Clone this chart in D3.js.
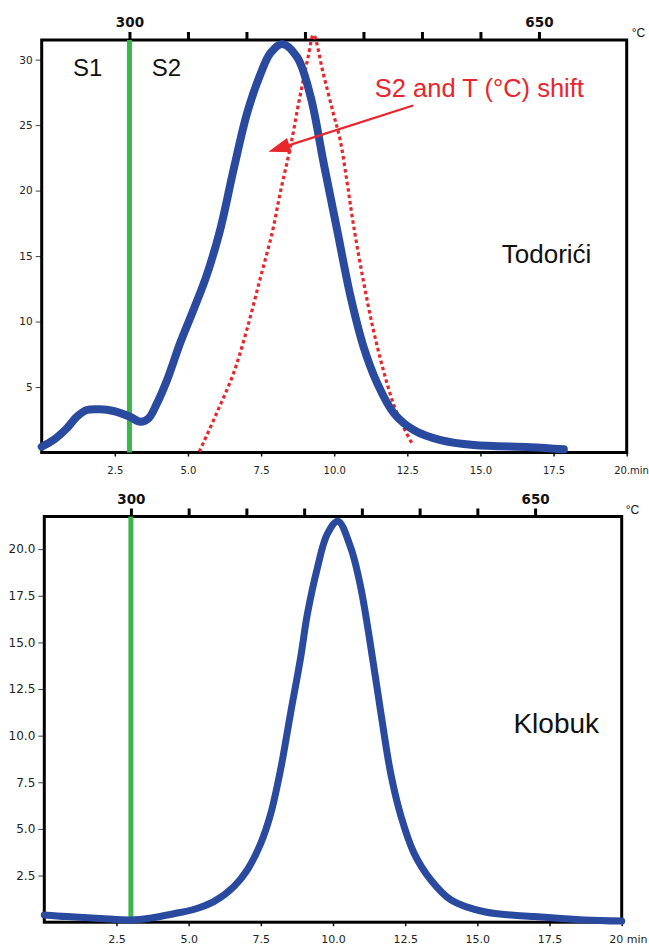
<!DOCTYPE html>
<html>
<head>
<meta charset="utf-8">
<script src="https://cdn.jsdelivr.net/npm/d3@7"></script>
<style>
  html, body { margin: 0; padding: 0; background: #fff; }
  svg { display: block; }
</style>
</head>
<body>
<svg id="chart" width="649" height="945"></svg>
<script>
// ---------- DATA ----------
// Todorići – measured S2 curve (time in min, signal)
const todoriciTime = [0, 0.4, 0.86, 1.2, 1.54, 2.0, 2.45, 3.0, 3.37, 3.65, 3.94, 4.28, 4.74, 5.19, 5.65, 6.1, 6.56, 7.02, 7.48, 7.82, 8.22, 8.73, 9.19, 9.64, 10.1, 10.56, 11.0, 11.47, 12.04, 12.73, 13.64, 14.78, 16.7, 17.85];
const todoriciValue = [0.44, 0.95, 1.85, 2.73, 3.24, 3.3, 3.17, 2.75, 2.35, 2.6, 3.75, 5.5, 8.4, 10.9, 13.6, 17.0, 21.6, 25.9, 28.9, 30.5, 31.2, 30.2, 27.2, 22.1, 17.0, 11.9, 8.1, 5.3, 3.0, 1.7, 0.95, 0.57, 0.4, 0.24];

// Todorići – shifted reference curve (red dotted)
const shiftTime = [5.39, 5.98, 6.55, 7.01, 7.46, 7.88, 8.17, 8.5, 8.83, 9.11, 9.29, 9.63, 9.97, 10.2, 10.43, 10.65, 10.99, 11.34, 11.68, 12.02, 12.36, 12.69];
const shiftValue = [0.06, 3.0, 6.0, 9.35, 13.2, 16.8, 20.0, 23.3, 27.2, 30.2, 31.9, 28.9, 25.9, 23.9, 20.8, 17.5, 13.2, 9.35, 6.3, 3.75, 1.97, 0.57];

// Klobuk – S2 curve
const klobukTime = [0, 0.78, 1.93, 3.03, 3.67, 4.48, 5.17, 5.87, 6.56, 7.03, 7.49, 7.84, 8.18, 8.53, 8.88, 9.11, 9.46, 9.8, 10.17, 10.61, 10.96, 11.31, 11.66, 12.0, 12.36, 12.81, 13.39, 14.09, 15.24, 16.98, 18.7, 20];
const klobukValue = [0.39, 0.3, 0.2, 0.12, 0.22, 0.45, 0.68, 1.1, 1.9, 2.8, 4.2, 5.8, 8.15, 11.2, 14.2, 16.5, 19.0, 20.8, 21.5, 20.1, 17.96, 14.75, 11.2, 7.97, 5.65, 3.69, 2.26, 1.19, 0.56, 0.3, 0.12, 0.06];

// S1/S2 boundary (min)
const boundaryTime = 3.0;

// Arrow of the shift annotation (time, value): start -> tip
const arrowTime = [12.7, 7.75];
const arrowValue = [26.5, 22.96];

// Tick values
const timeTicks = [2.5, 5.0, 7.5, 10.0, 12.5, 15.0, 17.5, 20.0];
const tempTicks = [300, 350, 400, 450, 500, 550, 600, 650];
const tempLabelled = [300, 650];
const topYTicks = [5, 10, 15, 20, 25, 30];
const bottomYTicks = [2.5, 5.0, 7.5, 10.0, 12.5, 15.0, 17.5, 20.0];

// Heating programme: T = 225 + 25 * t  (°C)
const tempAt = t => 225 + 25 * t;

// ---------- DRAWING ----------
const svg = d3.select("#chart");
const BLUE = "#2a4a9f", GREEN = "#3cb54a", RED = "#e8262c";
const tickFont = "DejaVu Sans, sans-serif";
const textFont = "Liberation Sans, Arial, sans-serif";

function panel(cfg) {
  const g = svg.append("g");
  const x = d3.scaleLinear().domain([0, 20]).range(cfg.xr);
  const y = d3.scaleLinear().domain([0, cfg.ymax]).range(cfg.yr);
  const xTemp = d3.scaleLinear().domain([tempAt(0), tempAt(20)]).range(cfg.xr);

  // left axis
  const ya = g.append("g").attr("transform", `translate(${cfg.xr[0]},0)`)
    .call(d3.axisLeft(y).tickValues(cfg.yTicks).tickSize(cfg.yTickSize).tickPadding(cfg.yPad)
      .tickFormat(cfg.yFmt));
  ya.select(".domain").remove();
  ya.selectAll("line").attr("stroke", "#444").attr("stroke-width", 1);
  ya.selectAll("text").attr("font-family", tickFont).attr("font-size", cfg.yFont).attr("fill", "#222");

  // bottom axis (time)
  const xa = g.append("g").attr("transform", `translate(0,${cfg.yr[0]})`)
    .call(d3.axisBottom(x).tickValues(timeTicks).tickSize(4).tickPadding(cfg.xPad)
      .tickFormat(d => d === 20 ? cfg.lastLabel : d3.format(".1f")(d)));
  xa.select(".domain").remove();
  xa.selectAll("line").attr("stroke", "#111").attr("stroke-width", 1.5);
  xa.selectAll("text").attr("font-family", tickFont).attr("font-size", cfg.xFont).attr("fill", "#222");
  xa.selectAll(".tick").filter(d => d === 20).select("text")
    .attr("text-anchor", "start").attr("dx", "-13");

  // top axis (temperature)
  const ta = g.append("g").attr("transform", `translate(0,${cfg.yr[1]})`)
    .call(d3.axisTop(xTemp).tickValues(tempTicks).tickSize(8).tickPadding(5)
      .tickFormat(d => tempLabelled.includes(d) ? d : ""));
  ta.select(".domain").remove();
  ta.selectAll("line").attr("stroke", "#000").attr("stroke-width", 3);
  ta.selectAll("text").attr("font-family", tickFont).attr("font-size", 13.5)
    .attr("font-weight", "bold").attr("fill", "#111");
  g.append("text").attr("x", cfg.xr[1] + cfg.degDx).attr("y", cfg.yr[1] - 3)
    .attr("font-family", textFont).attr("font-size", 12).attr("fill", "#111").text("°C");

  // frame
  g.append("rect").attr("x", cfg.xr[0]).attr("y", cfg.yr[1])
    .attr("width", cfg.xr[1] - cfg.xr[0]).attr("height", cfg.yr[0] - cfg.yr[1])
    .attr("fill", "none").attr("stroke", "#000").attr("stroke-width", 3);

  return { g, x, y };
}

// ---- Top panel: Todorići ----
const topP = panel({
  xr: [41.7, 626.7], yr: [452.5, 40], ymax: 31.5,
  yTicks: topYTicks, yFmt: d3.format("d"), yTickSize: 6, yPad: 3, yFont: 10.5,
  xPad: 10, xFont: 10, lastLabel: "20.min", degDx: 5
});

topP.g.append("line")
  .attr("x1", topP.x(boundaryTime)).attr("x2", topP.x(boundaryTime))
  .attr("y1", topP.y(0)).attr("y2", topP.y(31.5))
  .attr("stroke", GREEN).attr("stroke-width", 5);

const lineTop = d3.line().x(d => topP.x(d[0])).y(d => topP.y(d[1])).curve(d3.curveCatmullRom.alpha(0.5));

topP.g.append("path")
  .datum(d3.zip(shiftTime, shiftValue))
  .attr("d", lineTop).attr("fill", "none")
  .attr("stroke", RED).attr("stroke-width", 3.2).attr("stroke-dasharray", "3.5,3");

topP.g.append("path")
  .datum(d3.zip(todoriciTime, todoriciValue))
  .attr("d", lineTop).attr("fill", "none")
  .attr("stroke", BLUE).attr("stroke-width", 8).attr("stroke-linejoin", "round").attr("stroke-linecap", "round");

// arrow
{
  const x0 = topP.x(arrowTime[0]), y0 = topP.y(arrowValue[0]);
  const x1 = topP.x(arrowTime[1]), y1 = topP.y(arrowValue[1]);
  const ang = Math.atan2(y1 - y0, x1 - x0);
  const L = 22, W = 7.5;
  const bx = x1 - L * Math.cos(ang), by = y1 - L * Math.sin(ang);
  topP.g.append("line").attr("x1", x0).attr("y1", y0).attr("x2", bx).attr("y2", by)
    .attr("stroke", RED).attr("stroke-width", 2.2);
  const px = -Math.sin(ang), py = Math.cos(ang);
  topP.g.append("path")
    .attr("d", `M${x1},${y1}L${bx + W * px},${by + W * py}L${bx - W * px},${by - W * py}Z`)
    .attr("fill", RED);
}

topP.g.append("text").attr("x", topP.x(1.07)).attr("y", topP.y(28.76))
  .attr("font-family", textFont).attr("font-size", 24).attr("fill", "#111").text("S1");
topP.g.append("text").attr("x", topP.x(3.76)).attr("y", topP.y(28.76))
  .attr("font-family", textFont).attr("font-size", 24).attr("fill", "#111").text("S2");
topP.g.append("text").attr("x", topP.x(11.39)).attr("y", topP.y(27.16))
  .attr("font-family", textFont).attr("font-size", 25.5).attr("fill", RED).text("S2 and T (°C) shift");
topP.g.append("text").attr("x", topP.x(15.73)).attr("y", topP.y(14.44))
  .attr("font-family", textFont).attr("font-size", 26).attr("fill", "#111").text("Todorići");

// ---- Bottom panel: Klobuk ----
const botP = panel({
  xr: [44.3, 621.7], yr: [922.2, 516.5], ymax: 21.75,
  yTicks: bottomYTicks, yFmt: d3.format(".1f"), yTickSize: 6, yPad: 3, yFont: 12,
  xPad: 9, xFont: 11, lastLabel: "20 min", degDx: 4
});

botP.g.append("line")
  .attr("x1", botP.x(boundaryTime)).attr("x2", botP.x(boundaryTime))
  .attr("y1", botP.y(0)).attr("y2", botP.y(21.75))
  .attr("stroke", GREEN).attr("stroke-width", 5);

const lineBot = d3.line().x(d => botP.x(d[0])).y(d => botP.y(d[1])).curve(d3.curveCatmullRom.alpha(0.5));
botP.g.append("path")
  .datum(d3.zip(klobukTime, klobukValue))
  .attr("d", lineBot).attr("fill", "none")
  .attr("stroke", BLUE).attr("stroke-width", 7).attr("stroke-linejoin", "round").attr("stroke-linecap", "round");

botP.g.append("text").attr("x", botP.x(16.25)).attr("y", botP.y(10.13))
  .attr("font-family", textFont).attr("font-size", 28).attr("fill", "#111").text("Klobuk");
</script>
</body>
</html>
